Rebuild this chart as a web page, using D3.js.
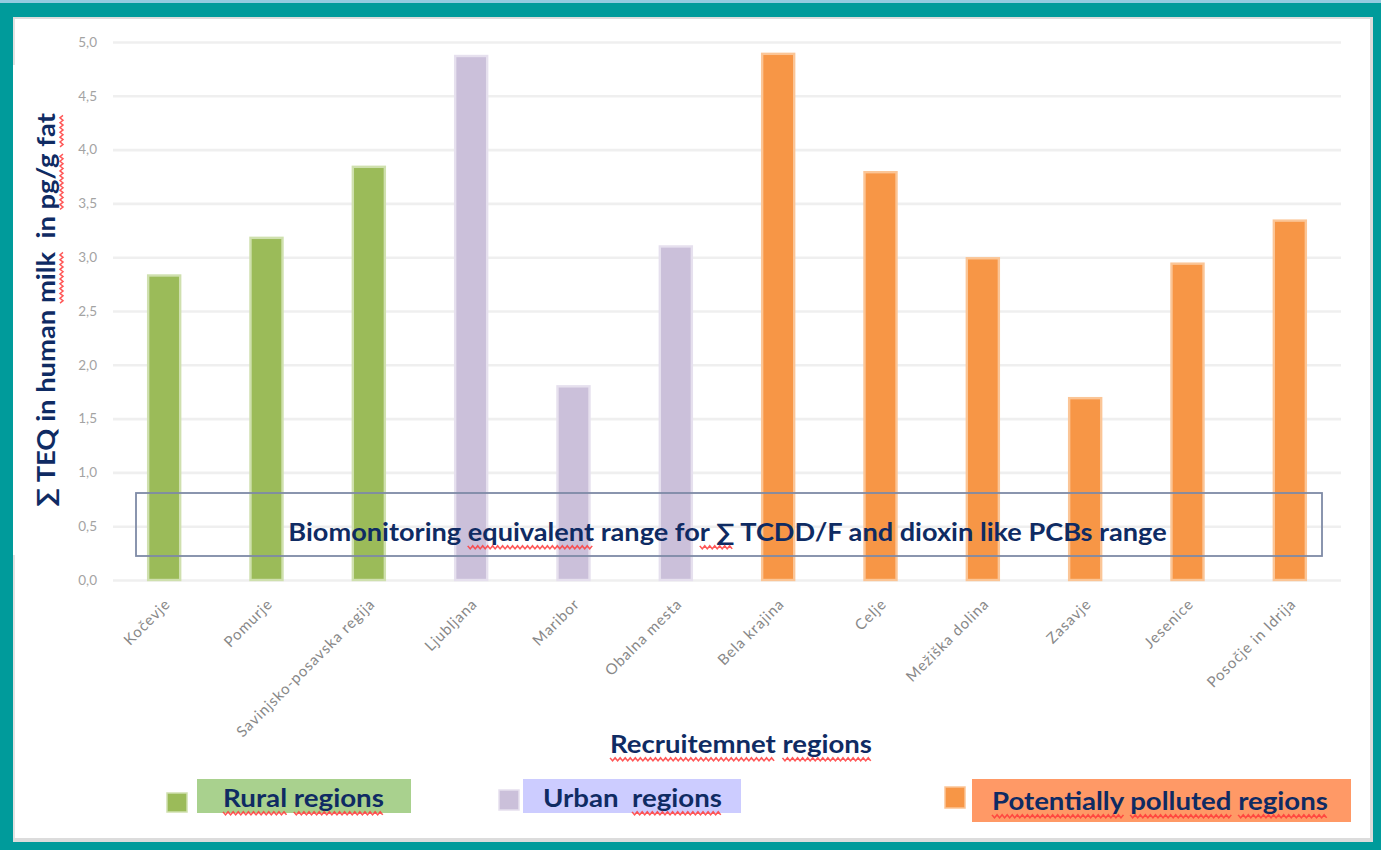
<!DOCTYPE html>
<html>
<head>
<meta charset="utf-8">
<script src="https://cdn.jsdelivr.net/npm/d3@7"></script>
<style>
  body { margin: 0; background: #009b9b; }
  svg { display: block; }
</style>
</head>
<body>
<svg id="chart" width="1381" height="850"></svg>
<script>
// ---- data ----
const regions = [
  "Kočevje", "Pomurje", "Savinjsko-posavska regija",
  "Ljubljana", "Maribor", "Obalna mesta",
  "Bela krajina", "Celje", "Mežiška dolina", "Zasavje", "Jesenice", "Posočje in Idrija"
];
const teqValues = [2.83, 3.18, 3.84, 4.87, 1.80, 3.10, 4.89, 3.79, 2.99, 1.69, 2.94, 3.34];
const regionGroups = [
  "rural", "rural", "rural",
  "urban", "urban", "urban",
  "polluted", "polluted", "polluted", "polluted", "polluted", "polluted"
];
const groupKeys = ["rural", "urban", "polluted"];
const groupLabels = ["Rural regions", "Urban  regions", "Potentially polluted regions"];
const yTickValues = [0, 0.5, 1, 1.5, 2, 2.5, 3, 3.5, 4, 4.5, 5];
const yTitle = "∑ TEQ in human milk  in pg/g fat";
const xTitle = "Recruitemnet regions";
const rangeNote = "Biomonitoring equivalent range for ∑ TCDD/F and dioxin like PCBs range";

// ---- styling ----
const barFill = { rural: "#9bbb59", urban: "#cbc0da", polluted: "#f79646" };
const barEdge = { rural: "#cfe0ae", urban: "#e6e0ee", polluted: "#fbc596" };
const legendBoxFill = { rural: "#a9d18e", urban: "#ccccff", polluted: "#ff9966" };
const navy = "#0f2b63";
const FONT = "Lato, 'Liberation Sans', sans-serif";

const svg = d3.select("#chart");

// frame
svg.append("rect").attr("width", 1381).attr("height", 850).attr("fill", "#009b9b");
svg.append("rect").attr("width", 1381).attr("height", 3).attr("fill", "#93cbe0");
svg.append("rect").attr("x", 13).attr("y", 17).attr("width", 1360).attr("height", 825).attr("fill", "#dcdcdc");
svg.append("rect").attr("x", 13).attr("y", 19).attr("width", 1357).attr("height", 819).attr("fill", "#ffffff");
svg.append("rect").attr("x", 13).attr("y", 19).attr("width", 2).attr("height", 46).attr("fill", "#e2e2e2");
svg.append("rect").attr("x", 13).attr("y", 555).attr("width", 2).attr("height", 283).attr("fill", "#e2e2e2");

// ---- scales ----
const x = d3.scaleBand().domain(regions).range([113, 1341]).paddingInner(0.687).paddingOuter(0.3435);
const y = d3.scaleLinear().domain([0, 5]).range([580, 42]);
const fmt = v => d3.format(".1f")(v).replace(".", ",");

// gridlines + y labels via axis
const yAxis = d3.axisLeft(y).tickValues(yTickValues).tickFormat(fmt).tickSize(-(1341 - 113)).tickPadding(16);
const gy = svg.append("g").attr("transform", "translate(113,0)").call(yAxis);
gy.select(".domain").remove();
gy.selectAll(".tick line").attr("stroke", "#efefef").attr("stroke-width", 2.6);
gy.selectAll(".tick text")
  .attr("fill", "#a3a3a3").attr("font-family", FONT).attr("font-size", 13.5);

// bars
const bars = regions.map((r, i) => ({ region: r, value: teqValues[i], group: regionGroups[i] }));
svg.append("g").selectAll("rect").data(bars).join("rect")
  .attr("x", d => x(d.region))
  .attr("y", d => y(d.value))
  .attr("width", x.bandwidth())
  .attr("height", d => y(0) - y(d.value))
  .attr("fill", d => barFill[d.group])
  .attr("stroke", d => barEdge[d.group])
  .attr("stroke-width", 2.4);

// x category labels
const xAxis = d3.axisBottom(x).tickSize(0).tickPadding(0);
const gx = svg.append("g").attr("transform", "translate(0,580)").call(xAxis);
gx.select(".domain").remove();
gx.selectAll(".tick text")
  .attr("fill", "#888888").attr("font-family", FONT).attr("font-size", 15)
  .attr("letter-spacing", 0.9)
  .attr("text-anchor", "end")
  .attr("dy", 0).attr("y", 0)
  .attr("transform", "translate(7,25) rotate(-45)");

// ---- helpers for headline text with spell-check squiggles ----
function squiggle(g, textNode, from, to, baselineOffset) {
  const x0 = textNode.getStartPositionOfChar(from).x;
  const x1 = textNode.getEndPositionOfChar(to).x;
  const yb = baselineOffset;
  const pts = [];
  let k = 0;
  for (let xx = x0; xx <= x1; xx += 2.2, k++) pts.push([xx, yb + (k % 2 ? 3 : 0)]);
  g.append("path")
    .attr("d", d3.line()(pts))
    .attr("fill", "none").attr("stroke", "#ff3a3a").attr("stroke-width", 1.4)
    .attr("stroke-opacity", 0.85);
}

function headline(base, str, size, anchor, targetWidth, underlineWords) {
  const g = svg.append("g");
  const t = g.append("text")
    .attr("x", 0).attr("y", 0)
    .attr("text-anchor", anchor)
    .attr("font-family", FONT).attr("font-weight", 700).attr("font-size", size)
    .attr("fill", navy)
    .style("white-space", "pre")
    .text(str);
  const node = t.node();
  const w = node.getComputedTextLength();
  const sx = targetWidth / w;
  g.attr("transform", `${base} scale(${sx},1)`);
  (underlineWords || []).forEach(word => {
    let idx = typeof word === "string" ? str.indexOf(word) : word[0];
    let end = typeof word === "string" ? idx + word.length - 1 : word[1];
    if (idx >= 0) squiggle(g, node, idx, end, size * 0.2);
  });
  return g;
}

// y-axis title
headline("translate(55,310) rotate(-90)", yTitle, 25, "middle", 394, ["milk", "pg/g", "fat"]);

// x-axis title
headline("translate(741,753)", xTitle, 24, "middle", 262, ["Recruitemnet", "regions"]);

// biomonitoring range box
svg.append("rect")
  .attr("x", 136).attr("y", 493).attr("width", 1186).attr("height", 63)
  .attr("fill", "none").attr("stroke", "#7e8aa6").attr("stroke-width", 1.8);
headline("translate(727.5,541)", rangeNote, 24, "middle", 879, ["equivalent", [33, 35]]);

// ---- legend ----
const legendLayout = [
  { sq: [167, 793, 20, 19], box: [197, 779, 214, 34], text: [223, 807, 161], words: ["Rural", "regions"] },
  { sq: [499, 790, 20, 20], box: [523, 779, 218, 34], text: [543, 807, 179], words: ["regions"] },
  { sq: [945, 787, 20, 21], box: [972, 779, 379, 43], text: [992, 810, 336], words: ["Potentially", "polluted", "regions"] }
];
groupKeys.forEach((k, i) => {
  const L = legendLayout[i];
  svg.append("rect").attr("x", L.box[0]).attr("y", L.box[1]).attr("width", L.box[2]).attr("height", L.box[3])
    .attr("fill", legendBoxFill[k]);
  svg.append("rect").attr("x", L.sq[0]).attr("y", L.sq[1]).attr("width", L.sq[2]).attr("height", L.sq[3])
    .attr("fill", barFill[k]).attr("stroke", barEdge[k]).attr("stroke-width", 1.5);
  headline(`translate(${L.text[0]},${L.text[1]})`, groupLabels[i], 24, "start", L.text[2], L.words);
});
</script>
</body>
</html>
